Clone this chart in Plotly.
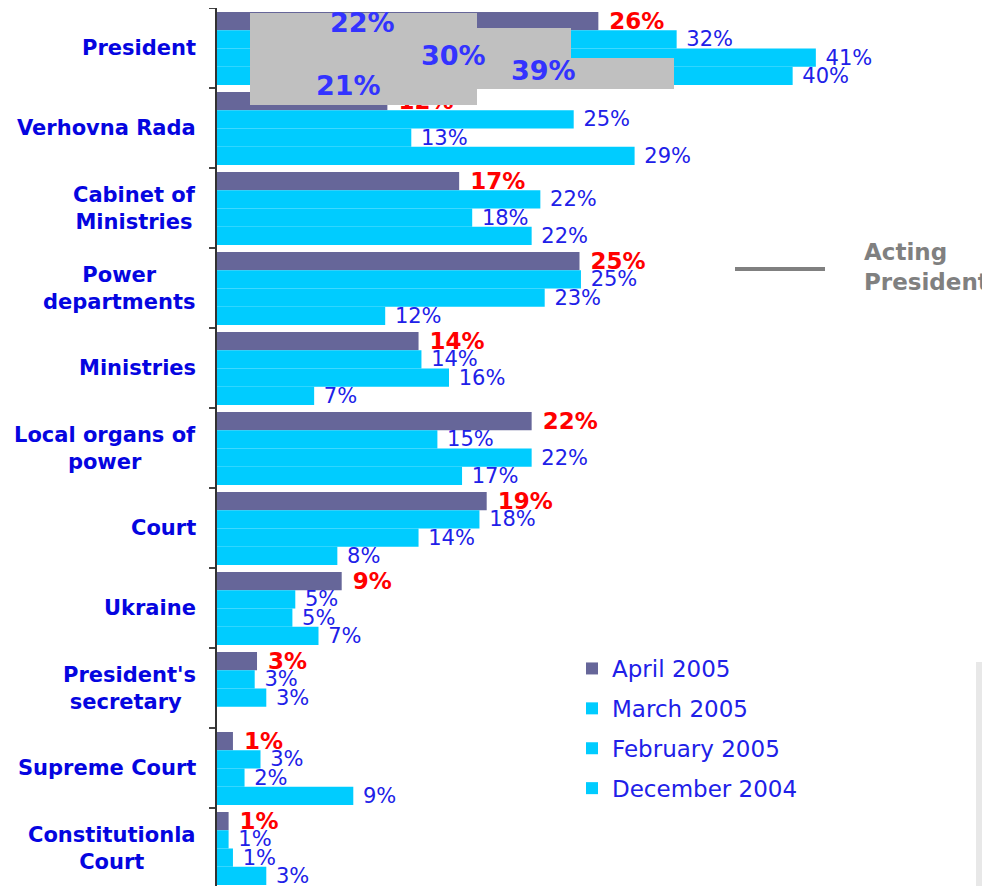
import plotly.graph_objects as go

categories = ["President", "Verhovna Rada", "Cabinet of<br>Ministries", "Power<br>departments",
              "Ministries", "Local organs of<br>power", "Court", "Ukraine",
              "President's<br>secretary ", "Supreme Court", "Constitutionla<br>Court"]
series_names = ["April 2005", "March 2005", "February 2005", "December 2004"]
april_2005 = [26.3, 11.75, 16.7, 25.0, 13.9, 21.7, 18.6, 8.6, 2.76, 1.1, 0.8]
march_2005 = [31.7, 24.6, 22.3, 25.1, 14.1, 15.2, 18.1, 5.4, 2.6, 3.0, 0.8]
february_2005 = [41.3, 13.4, 17.6, 22.6, 16.0, 21.7, 13.9, 5.2, 3.4, 1.9, 1.1]
december_2004 = [39.7, 28.8, 21.7, 11.6, 6.7, 16.9, 8.3, 7.0, None, 9.4, 3.4]
acting_president = [22, 30, 39, 21]

# ---- geometry / style (screen pixel coordinates; page body has an 8px margin) ----
PAGE_MARGIN = 8
SCREEN_W, SCREEN_H = 990, 886
W, H = SCREEN_W - PAGE_MARGIN, SCREEN_H - PAGE_MARGIN
L, T = 217, 8            # plot-area left / top on screen
PX_PER_PCT = 14.5
BAND = 80.0
plot_w = SCREEN_W - L
plot_h = SCREEN_H - T
xmax = plot_w / PX_PER_PCT
y_lo = -0.5
y_hi = -0.5 + plot_h / BAND

def px2x(px):
    return (px - L) / PX_PER_PCT

def py2y(py):
    return (py - T) / BAND - 0.5

def px2paper(px):
    return (px - L) / plot_w

def py2paper(py):
    return 1 - (py - T) / plot_h

DARK = "#666699"
CYAN = "#00CCFF"
BLUE_TXT = "#2020E8"
CAT_TXT = "#0505E0"
FONT = "DejaVu Sans"

series = [april_2005, march_2005, february_2005, december_2004]
colors = [DARK, CYAN, CYAN, CYAN]
bar_w = 0.228
offsets = [-0.45 + k * bar_w for k in range(4)]

fig = go.Figure()
ypos = list(range(len(categories)))
for k, (name, vals) in enumerate(zip(series_names, series)):
    if k == 0:
        tfont = dict(family=FONT, size=23, color="#FF0000", weight="bold")
    else:
        tfont = dict(family=FONT, size=21, color=BLUE_TXT)
    fig.add_trace(go.Bar(
        name=name, orientation="h", y=ypos, x=vals,
        width=bar_w, offset=offsets[k],
        marker=dict(color=colors[k], line=dict(width=0)),
        texttemplate="\u00a0%{x:.0f}%", textposition="outside",
        textfont=tfont, constraintext="none", cliponaxis=False,
        legendgroup=name, hoverinfo="skip",
    ))

shapes = []
# Acting President gray overlay blocks (layout geometry)
blocks = [((250, 13), (477, 105)), ((477, 28), (571, 89)), ((571, 58), (674, 89))]
for (ax0, ay0), (ax1, ay1) in blocks:
    shapes.append(dict(type="rect", xref="x", yref="y", layer="above",
                       x0=px2x(ax0), x1=px2x(ax1), y0=py2y(ay0), y1=py2y(ay1),
                       fillcolor="#C0C0C0", line=dict(width=0)))
# Acting President key line
shapes.append(dict(type="line", xref="paper", yref="paper",
                   x0=px2paper(735), x1=px2paper(825), y0=py2paper(269), y1=py2paper(269),
                   line=dict(color="#808080", width=4)))
# light strip bottom right
shapes.append(dict(type="rect", xref="paper", yref="paper", layer="below",
                   x0=px2paper(976), x1=1.0, y0=0, y1=py2paper(662),
                   fillcolor="#E8E8E8", line=dict(width=0)))

annotations = []
for i, c in enumerate(categories):
    annotations.append(dict(xref="paper", yref="y", x=0, y=i, xshift=-19,
                            xanchor="right", yanchor="middle", align="center",
                            text=c, showarrow=False,
                            font=dict(family=FONT, size=21, color=CAT_TXT, weight="bold")))
acting_label_px = [(362, 22), (453, 55), (543, 70), (348, 85)]
for v, (lx, ly) in zip(acting_president, acting_label_px):
    annotations.append(dict(xref="x", yref="y", x=px2x(lx), y=py2y(ly),
                            xanchor="center", yanchor="middle", text=f"{v}%", showarrow=False,
                            font=dict(family=FONT, size=27, color="#3333FF", weight="bold")))
annotations.append(dict(xref="paper", yref="paper", x=px2paper(862), y=py2paper(267.5),
                        xanchor="left", yanchor="middle", align="left",
                        text="Acting<br>President", showarrow=False,
                        font=dict(family=FONT, size=23, color="#808080", weight="bold")))

fig.update_layout(
    width=W, height=H,
    margin=dict(l=L - PAGE_MARGIN, r=0, t=T - PAGE_MARGIN, b=0, pad=0),
    paper_bgcolor="white", plot_bgcolor="white",
    barmode="overlay",
    showlegend=True,
    legend=dict(x=px2paper(572), y=py2paper(647), xanchor="left", yanchor="top",
                font=dict(family=FONT, size=23, color=BLUE_TXT),
                bgcolor="rgba(0,0,0,0)", traceorder="grouped", tracegroupgap=7,
                itemclick=False),
    xaxis=dict(range=[0, xmax], visible=False, fixedrange=True),
    yaxis=dict(range=[y_hi, y_lo], showgrid=False, zeroline=False,
               tickmode="array", tickvals=[i - 0.5 for i in range(len(categories) + 1)],
               ticks="outside", ticklen=6, tickwidth=1.5, tickcolor="#444",
               showticklabels=False, showline=True, linecolor="#333", linewidth=2,
               fixedrange=True),
    shapes=shapes, annotations=annotations,
)

fig.write_html("out.html")
